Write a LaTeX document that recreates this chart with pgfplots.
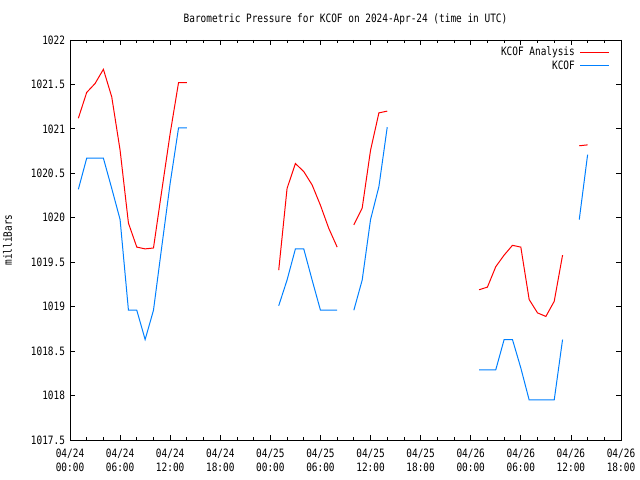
\documentclass[border=0pt]{standalone}
\usepackage{fontspec}
\setmainfont[FakeStretch=0.82]{DejaVu Sans Mono}
\usepackage{pgfplots}
\usepackage{pgfplotstable}
\pgfplotsset{compat=1.18}
\definecolor{anared}{RGB}{255,0,0}
\definecolor{obsblue}{RGB}{0,128,255}
\pgfplotstableread{
h ana obs
1 1021.12 1020.32
2 1021.41 1020.67
3 1021.51 1020.67
4 1021.67 1020.67
5 1021.36 1020.33
6 1020.76 1019.98
7 1019.94 1018.96
8 1019.67 1018.96
9 1019.65 1018.63
10 1019.66 1018.96
11 1020.31 1019.68
12 1020.95 1020.39
13 1021.52 1021.01
14 1021.52 1021.01
15 nan nan
24 nan nan
25 1019.41 1019.01
26 1020.33 1019.30
27 1020.61 1019.65
28 1020.52 1019.65
29 1020.37 1019.30
30 1020.14 1018.96
31 1019.88 1018.96
32 1019.67 1018.96
33 nan nan
34 1019.92 1018.96
35 1020.11 1019.30
36 1020.76 1019.98
37 1021.18 1020.35
38 1021.20 1021.02
39 nan nan
48 nan nan
49 1019.19 1018.29
50 1019.22 1018.29
51 1019.45 1018.29
52 1019.58 1018.63
53 1019.69 1018.63
54 1019.67 1018.31
55 1019.08 1017.95
56 1018.93 1017.95
57 1018.89 1017.95
58 1019.06 1017.95
59 1019.58 1018.63
60 nan nan
61 1020.81 1019.98
62 1020.82 1020.71
}\datatable
\begin{document}
\fontsize{11.5bp}{13bp}\selectfont
\begin{tikzpicture}
\begin{axis}[
  name=ax,
  scale only axis,
  width=551bp, height=400bp,
  xmin=0, xmax=66, ymin=1017.5, ymax=1022,
  xtick={0,6,...,66},
  xticklabels={{04/24\\00:00},{04/24\\06:00},{04/24\\12:00},{04/24\\18:00},{04/25\\00:00},{04/25\\06:00},{04/25\\12:00},{04/25\\18:00},{04/26\\00:00},{04/26\\06:00},{04/26\\12:00},{04/26\\18:00}},
  minor x tick num=2,
  ytick={1017.5,1018,...,1022},
  /pgf/number format/1000 sep={},
  /pgf/number format/assume math mode=true,
  tick align=inside, tick pos=both,
  major tick length=5bp, minor tick length=3bp,
  tick style={black, line width=0.8bp},
  axis line style={black, line width=0.8bp},
  xticklabel style={align=center, font=\fontsize{11.5bp}{14bp}\selectfont, yshift=-5bp},
  yticklabel style={font=\fontsize{11.5bp}{13bp}\selectfont, xshift=-1bp},
  title={Barometric Pressure for KCOF on 2024-Apr-24 (time in UTC)},
  title style={at={(0.5,1)}, anchor=south, yshift=9bp, inner sep=0pt, font=\fontsize{11.5bp}{13bp}\selectfont},
  ylabel={milliBars},
  ylabel style={font=\fontsize{11.5bp}{13bp}\selectfont},
  ylabel shift=11bp,
  unbounded coords=jump,
  legend plot pos=right,
  legend cell align=right,
  legend style={at={(rel axis cs:1,1)}, anchor=north east, xshift=-8bp, yshift=-3bp, draw=none, fill=none, row sep=-1bp, column sep=3bp, font=\fontsize{11.5bp}{13bp}\selectfont},
  legend image code/.code={\draw[#1] (0bp,0bp) -- (29bp,0bp);},
]
\addplot[anared, line width=1bp] table[x=h, y=ana] {\datatable};
\addlegendentry{KCOF Analysis}
\addplot[obsblue, line width=1bp] table[x=h, y=obs] {\datatable};
\addlegendentry{KCOF}
\end{axis}
\pgfresetboundingbox
\path[use as bounding box] (ax.south west) ++(-70bp,-40bp) rectangle ([shift={(19bp,40bp)}]ax.north east);
\end{tikzpicture}
\end{document}
